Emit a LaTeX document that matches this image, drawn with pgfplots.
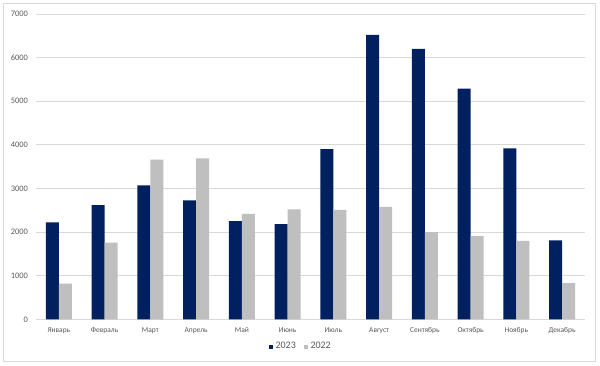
\documentclass[border=0pt]{standalone}
\usepackage{fontspec}
\setmainfont{Carlito}
\usepackage{pgfplots}
\usepackage{pgfplotstable}
\pgfplotsset{compat=1.18}
\definecolor{navy}{HTML}{002060}
\definecolor{lgrey}{HTML}{BFBFBF}
\definecolor{gridc}{HTML}{D9D9D9}
\definecolor{tickc}{HTML}{595959}
\pgfplotstableread{
x y23 y22
0 2220 820
1 2620 1760
2 3070 3660
3 2730 3690
4 2250 2420
5 2180 2520
6 3900 2510
7 6520 2580
8 6200 2000
9 5290 1910
10 3920 1800
11 1810 830
}\datatable
\begin{document}
\begin{tikzpicture}
\useasboundingbox (-27pt,-35pt) rectangle (423pt,239.5pt);
\fill[white] (-27pt,-35pt) rectangle (423pt,239.5pt);
\draw[gridc, line width=0.75pt] (-24pt,-31.3pt) rectangle (419.25pt,237.2pt);
\begin{axis}[
  at={(0pt,0pt)}, anchor=south west,
  scale only axis, width=411.75pt, height=229pt,
  xmin=-0.5, xmax=11.5, ymin=0, ymax=7000,
  ybar=0pt, bar width=9.75pt,
  xtick={0,...,11},
  xticklabels={Январь,Февраль,Март,Апрель,Май,Июнь,Июль,Август,Сентябрь,Октябрь,Ноябрь,Декабрь},
  ytick={0,1000,...,7000},
  ymajorgrids, grid style={gridc, line width=0.75pt},
  axis line style={draw=none},
  major tick length=0pt,
  /pgf/number format/assume math mode=true,
  /pgf/number format/1000 sep={},
  tick label style={text=tickc},
  yticklabel style={font=\fontsize{6.3}{7}\selectfont, xshift=-2.5pt},
  xticklabel style={font=\fontsize{5.6}{6.5}\selectfont, yshift=-2.5pt},
  legend columns=2,
  legend style={at={(0.483,-0.0897)}, anchor=center, draw=none, fill=none,
    font=\fontsize{7.5}{8}\selectfont, text=tickc,
    /tikz/every even column/.append style={column sep=4pt},
    inner sep=0pt},
  legend image code/.code={\fill[#1,draw=none] (0pt,-1.5pt) rectangle (3pt,1.5pt);},
]
\addplot[fill=navy, draw=none] table[x=x, y=y23] {\datatable};
\addplot[fill=lgrey, draw=none] table[x=x, y=y22] {\datatable};
\legend{2023,2022}
\end{axis}
\end{tikzpicture}
\end{document}
